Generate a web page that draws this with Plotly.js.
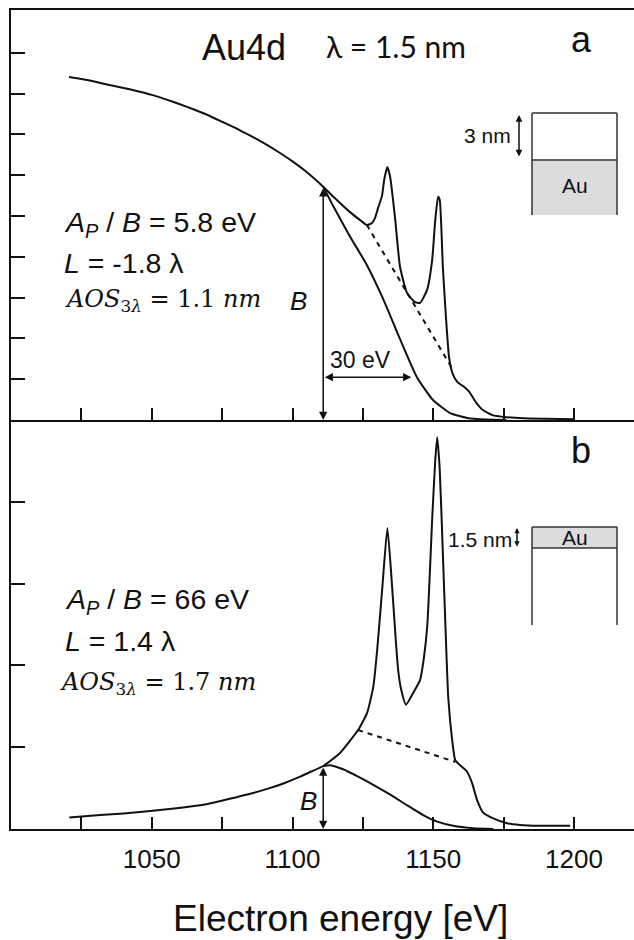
<!DOCTYPE html>
<html>
<head>
<meta charset="utf-8">
<script src="https://cdn.plot.ly/plotly-3.0.1.min.js"></script>
<style>html,body{margin:0;padding:0;background:#fff;}#chart{width:634px;height:940px;}</style>
</head>
<body>
<div id="chart"></div>
<script>
// ---------- data ----------
// Panel a: 3 nm overlayer on Au
const energyA = [1020.6,1025,1030,1035,1040,1045,1050,1055,1060,1065,1070,1075,1080,1085,1090,1095,1100,1105,1110.9,1115,1120,1124,1126.4,1128.2,1129.3,1130.4,1131.8,1132.6,1133.7,1134.7,1135.7,1136.5,1138.2,1140.7,1143.5,1145.3,1147.8,1149.6,1150.7,1151.7,1152.3,1153.4,1154.5,1155.6,1156.8,1158.6,1161,1162.8,1165.3,1167.5,1171,1176,1182,1190,1200];
const intensityA = [8.41,8.36,8.29,8.21,8.14,8.06,7.97,7.86,7.74,7.61,7.47,7.31,7.15,6.97,6.78,6.57,6.34,6.08,5.72,5.44,5.12,4.9,4.78,4.83,4.95,5.2,5.5,5.9,6.2,5.95,5.4,4.9,3.75,3.11,2.89,2.87,3.19,3.92,4.9,5.47,5.39,3.75,2.52,1.54,1.15,0.93,0.81,0.69,0.42,0.25,0.12,0.07,0.04,0.03,0.02];
const bgEnergyA = [1110.9,1114.4,1120.4,1126.4,1132.1,1138.2,1144.2,1149.9,1156,1162,1169,1176];
const bgIntensityA = [5.72,5.25,4.5,3.8,2.98,1.98,1.05,0.49,0.17,0.05,0.01,0];
const dashEnergyA = [1126.4,1157];
const dashIntensityA = [4.78,1.23];

// Panel b: 1.5 nm Au on substrate
const energyB = [1020.7,1031.7,1040,1049.5,1058,1067.2,1073,1079,1085,1091,1097,1102.7,1106.5,1110.9,1116.9,1120,1123.3,1126.5,1128.7,1130.1,1131.9,1133.7,1135.4,1136.6,1137.5,1138.5,1140.3,1142.8,1145.3,1146.7,1147.9,1149.6,1150.7,1151.4,1152.3,1153.4,1154.3,1155.3,1156.7,1157.8,1159.5,1162,1163.8,1165.6,1167.7,1171.3,1176.2,1180.8,1187.9,1198.6];
const intensityB = [0.14,0.17,0.19,0.22,0.25,0.29,0.33,0.38,0.43,0.49,0.56,0.64,0.7,0.77,0.93,1.06,1.21,1.42,1.74,2.2,2.95,3.68,2.95,2.35,1.95,1.72,1.52,1.66,1.82,2.1,2.5,3.78,4.51,4.79,4.39,3.37,2.5,1.62,1.09,0.84,0.78,0.7,0.56,0.35,0.2,0.13,0.07,0.05,0.04,0.04];
const bgEnergyB = [1110.9,1113.4,1118,1123.3,1128.7,1134.7,1140.7,1146.4,1151.4,1157.1,1164.2,1171.3];
const bgIntensityB = [0.77,0.78,0.73,0.64,0.54,0.42,0.29,0.17,0.09,0.04,0.01,0];
const dashEnergyB = [1123.3,1157.8];
const dashIntensityB = [1.21,0.82];

// B marker position and 30 eV span
const bEnergy = 1110.9;
const bHeightA = 5.72;
const bHeightB = 0.77;
const spanStart = 1110.9, spanEnd = 1142.2, spanLevel = 1.05;

// axis ticks
const xTickVals = [1050,1100,1150,1200];
const xTickText = ['1050','1100','1150','1200'];
const xMinorTicks = [1025,1075,1125,1175];
const yTicksA = [1,2,3,4,5,6,7,8,9];
const yTicksB = [1,2,3,4];

// ---------- drawing ----------
const INK = '#111';
const SANS = 'Liberation Sans, Arial, sans-serif';
const SERIF = 'DejaVu Serif, serif';
const LATO = 'Lato, sans-serif';

// pixel -> paper helpers for decorations
const ML = 11, MT = 10, PW = 623, PH = 819;
const px = x => (x - ML) / PW;
const py = y => (MT + PH - y) / PH;

function line(x, y, xa, ya, dash) {
  return {x: x, y: y, xaxis: xa, yaxis: ya, type: 'scatter', mode: 'lines',
    line: {color: INK, width: 2, dash: dash || 'solid', shape: dash ? 'linear' : 'spline', smoothing: 0.5},
    hoverinfo: 'skip'};
}

const traces = [
  line(energyA, intensityA, 'x2', 'y2'),
  line(bgEnergyA, bgIntensityA, 'x2', 'y2'),
  line(dashEnergyA, dashIntensityA, 'x2', 'y2', '5px,5px'),
  line(energyB, intensityB, 'x', 'y'),
  line(bgEnergyB, bgIntensityB, 'x', 'y'),
  line(dashEnergyB, dashIntensityB, 'x', 'y', '5px,5px')
];

function txt(text, x, y, size, family, xanchor) {
  return {xref: 'paper', yref: 'paper', x: px(x), y: py(y), text: text, showarrow: false,
    xanchor: xanchor || 'center', yanchor: 'middle', font: {family: family, size: size, color: INK}};
}
function dataArrow(xa, ya, x0, y0, x1, y1) {
  return {xref: xa, yref: ya, axref: xa, ayref: ya, x: x1, y: y1, ax: x0, ay: y0, text: '',
    showarrow: true, arrowhead: 2, arrowside: 'end+start', arrowsize: 1.1, arrowwidth: 1.5,
    arrowcolor: INK, standoff: 0, startstandoff: 0};
}
function pixArrow(x, yTop, yBot, size) {
  return {xref: 'paper', yref: 'paper', x: px(x), y: py(yTop), ax: 0, ay: yBot - yTop, text: '',
    showarrow: true, arrowhead: 2, arrowside: 'end+start', arrowsize: size, arrowwidth: 1.5,
    arrowcolor: INK, standoff: 0, startstandoff: 0};
}

const annotations = [
  txt('Au4d', 244, 48, 36, SANS),
  txt('λ = 1.5 nm', 396, 46, 30, LATO),
  txt('a', 581, 40, 36, SANS),
  txt('3 nm', 487, 135, 21, SANS),
  txt('Au', 575, 185, 21, SANS),
  txt('<i>A</i><sub><i>P</i></sub> / <i>B</i> = 5.8 eV', 62, 224, 28.5, SANS, 'left'),
  txt('<i>L</i> = -1.8 λ', 62, 263, 28.5, SANS, 'left'),
  txt('<i>AOS</i><sub>3<i>λ</i></sub> = 1.1 <i>nm</i>', 63, 301, 24, SERIF, 'left'),
  txt('<i>B</i>', 298, 301, 26, SANS),
  txt('30 eV', 360, 360, 23, SANS),
  txt('b', 581, 450, 36, SANS),
  txt('1.5 nm', 480, 540, 21, SANS),
  txt('Au', 575, 538, 21, SANS),
  txt('<i>A</i><sub><i>P</i></sub> / <i>B</i> = 66 eV', 63, 601, 28.5, SANS, 'left'),
  txt('<i>L</i> = 1.4 λ', 63, 641, 28.5, SANS, 'left'),
  txt('<i>AOS</i><sub>3<i>λ</i></sub> = 1.7 <i>nm</i>', 58, 683, 24, SERIF, 'left'),
  txt('<i>B</i>', 308, 801, 26, SANS),
  txt('Electron energy [eV]', 341, 918, 37, SANS),
  dataArrow('x2', 'y2', bEnergy, bHeightA, bEnergy, 0),
  dataArrow('x2', 'y2', spanStart, spanLevel, spanEnd, spanLevel),
  dataArrow('x', 'y', bEnergy, bHeightB, bEnergy, 0),
  pixArrow(519, 115, 158, 0.9),
  pixArrow(517, 528, 548, 0.7)
];

function seg(x0, y0, x1, y1) {
  return {type: 'line', xref: 'paper', yref: 'paper', x0: px(x0), y0: py(y0), x1: px(x1), y1: py(y1),
    line: {color: '#333', width: 1.5}};
}
function box(x0, y0, x1, y1) {
  return {type: 'rect', xref: 'paper', yref: 'paper', x0: px(x0), y0: py(y0), x1: px(x1), y1: py(y1),
    fillcolor: '#dcdcdc', line: {width: 0}, layer: 'below'};
}
const shapes = [
  box(532, 160, 617, 215),
  seg(532, 113, 617, 113), seg(532, 160, 617, 160), seg(532, 113, 532, 215), seg(617, 113, 617, 215),
  box(532, 527, 617, 548),
  seg(532, 527, 617, 527), seg(532, 548, 617, 548), seg(532, 527, 532, 625), seg(617, 527, 617, 625)
];

const xCommon = {range: [1000, 1221.3], tickvals: xTickVals, ticktext: xTickText, ticks: 'inside',
  ticklen: 12, tickwidth: 2, tickcolor: INK, showline: true, linewidth: 2, linecolor: INK,
  showgrid: false, zeroline: false, fixedrange: true,
  minor: {tickvals: xMinorTicks, ticks: 'inside', ticklen: 12, tickwidth: 2, tickcolor: INK, showgrid: false}};
const yCommon = {ticks: 'inside', ticklen: 14, tickwidth: 2, tickcolor: INK, showline: true,
  linewidth: 2, linecolor: INK, mirror: false, showgrid: false, zeroline: false,
  showticklabels: false, fixedrange: true};
const split = 409 / 819;

const layout = {
  width: 634, height: 940,
  margin: {l: ML, r: 0, t: MT, b: 111, pad: 0},
  paper_bgcolor: '#fff', plot_bgcolor: 'rgba(0,0,0,0)',
  showlegend: false,
  xaxis: Object.assign({}, xCommon, {anchor: 'y', domain: [0, 1], mirror: false,
    tickfont: {family: SANS, size: 26, color: INK}, ticklabelstandoff: 6}),
  xaxis2: Object.assign({}, xCommon, {anchor: 'y2', domain: [0, 1], mirror: true, showticklabels: false}),
  yaxis: Object.assign({}, yCommon, {domain: [0, split], range: [0, 5], tickvals: yTicksB}),
  yaxis2: Object.assign({}, yCommon, {domain: [split, 1], range: [0, 10.05], tickvals: yTicksA}),
  annotations: annotations,
  shapes: shapes
};

Plotly.newPlot('chart', traces, layout, {displayModeBar: false, staticPlot: true});
</script>
</body>
</html>
